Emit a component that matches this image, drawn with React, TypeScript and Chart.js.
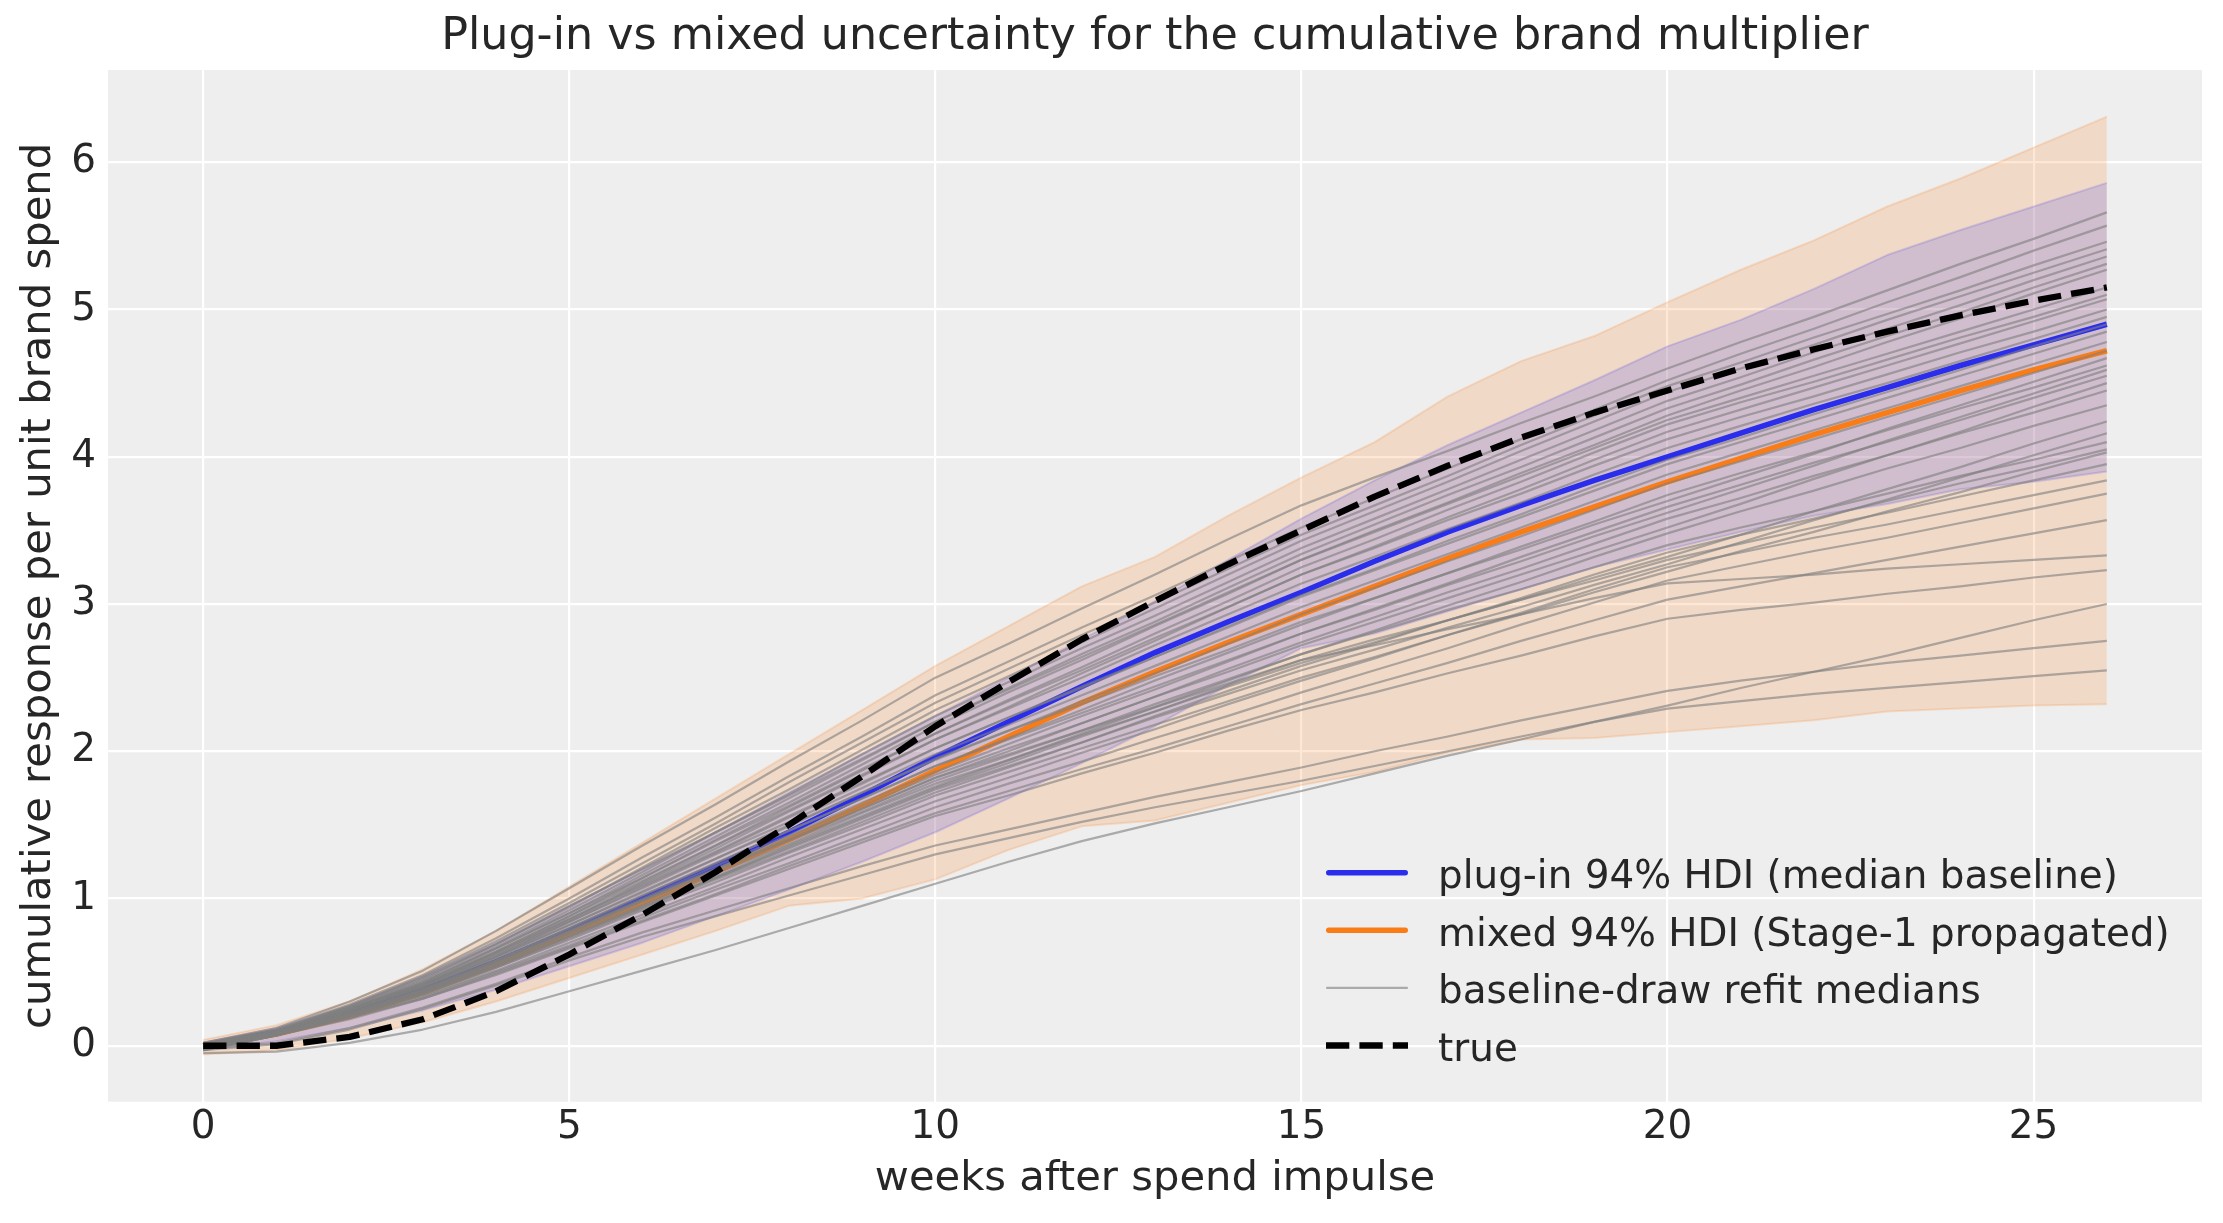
import React, { useEffect, useRef } from "react";
import { Chart, registerables } from "chart.js";

Chart.register(...registerables);

// ---------------- data ----------------
const WEEKS = [0, 1, 2, 3, 4, 5, 6, 7, 8, 9, 10, 11, 12, 13, 14, 15, 16, 17, 18, 19, 20, 21, 22, 23, 24, 25, 26];
const X_TICKS = [0, 5, 10, 15, 20, 25];
const Y_TICKS = [0, 1, 2, 3, 4, 5, 6];
const X_RANGE = [-1.3, 27.3];
const Y_RANGE = [-0.38, 6.627];

const TITLE = "Plug-in vs mixed uncertainty for the cumulative brand multiplier";
const X_LABEL = "weeks after spend impulse";
const Y_LABEL = "cumulative response per unit brand spend";
const LABEL_PLUGIN = "plug-in 94% HDI (median baseline)";
const LABEL_MIXED = "mixed 94% HDI (Stage-1 propagated)";
const LABEL_DRAWS = "baseline-draw refit medians";
const LABEL_TRUE = "true";

const TRUE_CURVE = [0, 0.0, 0.06, 0.18, 0.37, 0.62, 0.89, 1.18, 1.5, 1.83, 2.17, 2.47, 2.76, 3.02, 3.27, 3.5, 3.73, 3.94, 4.13, 4.3, 4.45, 4.6, 4.73, 4.85, 4.96, 5.06, 5.15];
const PLUGIN_MEDIAN = [0, 0.09, 0.22, 0.38, 0.57, 0.78, 1.0, 1.22, 1.45, 1.7, 1.96, 2.2, 2.44, 2.67, 2.88, 3.08, 3.29, 3.49, 3.67, 3.84, 4.0, 4.16, 4.32, 4.47, 4.62, 4.76, 4.9];
const PLUGIN_HI = [0.02, 0.12, 0.27, 0.47, 0.7, 0.95, 1.2, 1.45, 1.72, 1.98, 2.24, 2.5, 2.76, 3.02, 3.3, 3.58, 3.84, 4.08, 4.3, 4.52, 4.75, 4.93, 5.14, 5.37, 5.54, 5.7, 5.86];
const PLUGIN_LO = [-0.03, 0.03, 0.12, 0.24, 0.38, 0.54, 0.7, 0.88, 1.06, 1.25, 1.45, 1.68, 1.92, 2.17, 2.45, 2.7, 2.8, 2.95, 3.1, 3.25, 3.37, 3.49, 3.6, 3.68, 3.78, 3.83, 3.9];
const MIXED_MEDIAN = [0, 0.08, 0.2, 0.36, 0.55, 0.76, 0.97, 1.18, 1.4, 1.63, 1.87, 2.1, 2.33, 2.54, 2.74, 2.93, 3.12, 3.31, 3.49, 3.66, 3.83, 3.99, 4.15, 4.3, 4.45, 4.59, 4.72];
const MIXED_HI = [0.04, 0.14, 0.3, 0.52, 0.78, 1.08, 1.38, 1.68, 1.98, 2.28, 2.58, 2.85, 3.12, 3.32, 3.6, 3.86, 4.1, 4.41, 4.65, 4.82, 5.05, 5.27, 5.47, 5.7, 5.89, 6.1, 6.31];
const MIXED_LO = [-0.06, -0.03, 0.05, 0.16, 0.3, 0.46, 0.62, 0.78, 0.95, 1.0, 1.13, 1.33, 1.49, 1.53, 1.65, 1.77, 1.86, 1.99, 2.08, 2.09, 2.13, 2.17, 2.21, 2.27, 2.29, 2.31, 2.32];

const DRAW_01 = [0.02, 0.12, 0.30, 0.51, 0.78, 1.07, 1.36, 1.64, 1.93, 2.21, 2.50, 2.73, 2.97, 3.20, 3.44, 3.67, 3.86, 4.04, 4.23, 4.41, 4.60, 4.78, 4.95, 5.13, 5.31, 5.48, 5.66];
const DRAW_02 = [0.02, 0.11, 0.28, 0.48, 0.73, 1.00, 1.28, 1.55, 1.83, 2.10, 2.38, 2.61, 2.84, 3.06, 3.29, 3.52, 3.72, 3.92, 4.12, 4.32, 4.52, 4.70, 4.87, 5.05, 5.22, 5.40, 5.57];
const DRAW_03 = [0.01, 0.11, 0.27, 0.47, 0.71, 0.97, 1.24, 1.51, 1.79, 2.06, 2.33, 2.56, 2.79, 3.01, 3.24, 3.47, 3.67, 3.87, 4.08, 4.28, 4.48, 4.64, 4.81, 4.97, 5.13, 5.30, 5.46];
const DRAW_04 = [0.01, 0.10, 0.26, 0.45, 0.69, 0.94, 1.21, 1.48, 1.74, 2.01, 2.28, 2.51, 2.74, 2.97, 3.20, 3.43, 3.63, 3.83, 4.04, 4.24, 4.44, 4.60, 4.76, 4.93, 5.09, 5.25, 5.41];
const DRAW_05 = [0.00, 0.10, 0.26, 0.44, 0.67, 0.92, 1.18, 1.45, 1.71, 1.98, 2.24, 2.47, 2.70, 2.92, 3.15, 3.38, 3.58, 3.78, 3.98, 4.18, 4.38, 4.54, 4.71, 4.87, 5.03, 5.20, 5.36];
const DRAW_06 = [0.00, 0.10, 0.25, 0.43, 0.66, 0.90, 1.16, 1.42, 1.68, 1.94, 2.20, 2.43, 2.66, 2.88, 3.11, 3.34, 3.54, 3.74, 3.93, 4.13, 4.33, 4.49, 4.66, 4.82, 4.98, 5.15, 5.31];
const DRAW_07 = [0.00, 0.10, 0.25, 0.42, 0.64, 0.88, 1.14, 1.40, 1.65, 1.91, 2.17, 2.40, 2.62, 2.85, 3.07, 3.30, 3.50, 3.69, 3.89, 4.08, 4.28, 4.45, 4.61, 4.78, 4.94, 5.11, 5.27];
const DRAW_08 = [-0.01, 0.09, 0.24, 0.41, 0.63, 0.86, 1.11, 1.36, 1.62, 1.87, 2.12, 2.35, 2.57, 2.80, 3.02, 3.25, 3.44, 3.64, 3.83, 4.03, 4.22, 4.37, 4.51, 4.66, 4.81, 4.95, 5.10];
const DRAW_09 = [-0.01, 0.09, 0.24, 0.41, 0.62, 0.85, 1.10, 1.34, 1.59, 1.83, 2.08, 2.30, 2.53, 2.75, 2.98, 3.20, 3.39, 3.59, 3.78, 3.98, 4.17, 4.32, 4.47, 4.62, 4.77, 4.92, 5.07];
const DRAW_10 = [0.00, 0.09, 0.24, 0.40, 0.61, 0.84, 1.08, 1.31, 1.55, 1.78, 2.02, 2.23, 2.44, 2.64, 2.85, 3.06, 3.24, 3.43, 3.61, 3.80, 3.98, 4.13, 4.29, 4.44, 4.59, 4.75, 4.90];
const DRAW_11 = [-0.01, 0.09, 0.23, 0.39, 0.60, 0.82, 1.05, 1.27, 1.50, 1.72, 1.95, 2.14, 2.32, 2.51, 2.69, 2.88, 3.04, 3.21, 3.37, 3.54, 3.70, 3.86, 4.02, 4.19, 4.35, 4.51, 4.67];
const DRAW_12 = [-0.01, 0.09, 0.22, 0.38, 0.58, 0.80, 1.02, 1.24, 1.46, 1.68, 1.90, 2.08, 2.26, 2.44, 2.62, 2.80, 2.96, 3.13, 3.29, 3.46, 3.62, 3.78, 3.94, 4.11, 4.27, 4.43, 4.59];
const DRAW_13 = [-0.02, 0.08, 0.22, 0.37, 0.57, 0.78, 0.99, 1.20, 1.42, 1.63, 1.84, 2.02, 2.19, 2.37, 2.54, 2.72, 2.88, 3.04, 3.20, 3.36, 3.52, 3.68, 3.85, 4.01, 4.17, 4.34, 4.50];
const DRAW_14 = [-0.02, 0.08, 0.21, 0.36, 0.55, 0.76, 0.96, 1.17, 1.37, 1.58, 1.78, 1.94, 2.11, 2.27, 2.44, 2.60, 2.74, 2.89, 3.03, 3.18, 3.32, 3.47, 3.63, 3.78, 3.93, 4.09, 4.24];
const DRAW_15 = [-0.02, 0.08, 0.21, 0.36, 0.54, 0.74, 0.94, 1.14, 1.34, 1.54, 1.74, 1.90, 2.06, 2.23, 2.39, 2.55, 2.69, 2.84, 2.98, 3.13, 3.27, 3.42, 3.57, 3.71, 3.86, 4.01, 4.16];
const DRAW_16 = [-0.01, 0.08, 0.22, 0.37, 0.56, 0.77, 0.98, 1.18, 1.39, 1.59, 1.80, 1.97, 2.14, 2.32, 2.49, 2.66, 2.81, 2.96, 3.10, 3.25, 3.40, 3.52, 3.63, 3.75, 3.87, 3.98, 4.10];
const DRAW_17 = [-0.02, 0.08, 0.20, 0.35, 0.53, 0.72, 0.92, 1.11, 1.31, 1.50, 1.70, 1.86, 2.02, 2.18, 2.34, 2.50, 2.64, 2.79, 2.93, 3.08, 3.22, 3.36, 3.49, 3.63, 3.76, 3.90, 4.03];
const DRAW_18 = [-0.03, 0.07, 0.20, 0.34, 0.51, 0.70, 0.89, 1.08, 1.28, 1.47, 1.66, 1.82, 1.99, 2.15, 2.32, 2.48, 2.63, 2.79, 2.94, 3.10, 3.25, 3.35, 3.45, 3.54, 3.64, 3.74, 3.84];
const DRAW_19 = [-0.03, 0.07, 0.19, 0.33, 0.50, 0.68, 0.87, 1.06, 1.24, 1.43, 1.62, 1.78, 1.93, 2.09, 2.24, 2.40, 2.55, 2.70, 2.86, 3.01, 3.16, 3.26, 3.36, 3.45, 3.55, 3.65, 3.75];
const DRAW_20 = [-0.03, 0.07, 0.19, 0.32, 0.49, 0.67, 0.85, 1.03, 1.22, 1.40, 1.58, 1.73, 1.88, 2.02, 2.17, 2.32, 2.46, 2.60, 2.75, 2.89, 3.03, 3.12, 3.21, 3.30, 3.39, 3.48, 3.57];
const DRAW_21 = [-0.02, 0.09, 0.22, 0.37, 0.57, 0.78, 0.99, 1.20, 1.40, 1.61, 1.82, 1.98, 2.14, 2.30, 2.46, 2.62, 2.72, 2.83, 2.93, 3.04, 3.14, 3.17, 3.20, 3.24, 3.27, 3.30, 3.33];
const DRAW_22 = [-0.03, 0.07, 0.18, 0.32, 0.48, 0.66, 0.84, 1.02, 1.20, 1.38, 1.56, 1.70, 1.85, 1.99, 2.14, 2.28, 2.40, 2.53, 2.65, 2.78, 2.90, 2.96, 3.01, 3.07, 3.12, 3.18, 3.23];
const DRAW_23 = [-0.05, -0.04, 0.02, 0.11, 0.23, 0.37, 0.51, 0.65, 0.80, 0.95, 1.10, 1.25, 1.39, 1.51, 1.62, 1.73, 1.85, 1.97, 2.08, 2.20, 2.31, 2.43, 2.54, 2.65, 2.77, 2.89, 3.00];
const DRAW_24 = [-0.02, 0.02, 0.12, 0.26, 0.42, 0.60, 0.77, 0.92, 1.07, 1.22, 1.36, 1.47, 1.58, 1.69, 1.79, 1.89, 2.00, 2.10, 2.21, 2.31, 2.41, 2.48, 2.54, 2.60, 2.65, 2.70, 2.75];
const DRAW_25 = [-0.03, 0.01, 0.11, 0.25, 0.41, 0.58, 0.74, 0.88, 1.02, 1.16, 1.30, 1.41, 1.52, 1.62, 1.71, 1.80, 1.90, 2.00, 2.10, 2.20, 2.29, 2.34, 2.39, 2.43, 2.47, 2.51, 2.55];
const DRAW_26 = [0.01, 0.10, 0.27, 0.46, 0.69, 0.95, 1.20, 1.45, 1.70, 1.95, 2.20, 2.42, 2.64, 2.86, 3.08, 3.30, 3.49, 3.68, 3.87, 4.06, 4.25, 4.40, 4.55, 4.70, 4.85, 5.00, 5.15];
const DRAW_27 = [0.00, 0.10, 0.25, 0.43, 0.66, 0.90, 1.14, 1.39, 1.63, 1.88, 2.12, 2.34, 2.55, 2.77, 2.98, 3.20, 3.38, 3.57, 3.75, 3.94, 4.12, 4.27, 4.41, 4.56, 4.71, 4.85, 5.00];
const DRAW_28 = [0.00, 0.10, 0.25, 0.42, 0.64, 0.88, 1.12, 1.36, 1.60, 1.84, 2.08, 2.29, 2.50, 2.72, 2.93, 3.14, 3.32, 3.51, 3.69, 3.88, 4.06, 4.21, 4.36, 4.50, 4.65, 4.80, 4.95];
const DRAW_29 = [-0.01, 0.09, 0.24, 0.41, 0.63, 0.86, 1.09, 1.32, 1.56, 1.79, 2.02, 2.23, 2.43, 2.64, 2.84, 3.05, 3.23, 3.41, 3.59, 3.77, 3.95, 4.10, 4.25, 4.40, 4.55, 4.70, 4.85];
const DRAW_30 = [-0.01, 0.09, 0.24, 0.40, 0.61, 0.84, 1.07, 1.30, 1.52, 1.75, 1.98, 2.18, 2.38, 2.58, 2.78, 2.98, 3.16, 3.34, 3.52, 3.70, 3.88, 4.03, 4.18, 4.33, 4.48, 4.63, 4.78];
const DRAW_31 = [-0.01, 0.09, 0.23, 0.39, 0.60, 0.82, 1.04, 1.27, 1.49, 1.72, 1.94, 2.14, 2.34, 2.53, 2.73, 2.93, 3.11, 3.29, 3.46, 3.64, 3.82, 3.97, 4.12, 4.27, 4.42, 4.57, 4.72];
const DRAW_32 = [-0.01, 0.09, 0.22, 0.38, 0.58, 0.80, 1.02, 1.24, 1.46, 1.68, 1.90, 2.09, 2.28, 2.48, 2.67, 2.86, 3.04, 3.21, 3.39, 3.56, 3.74, 3.89, 4.03, 4.18, 4.33, 4.47, 4.62];
const DRAW_33 = [-0.02, 0.08, 0.22, 0.38, 0.58, 0.79, 1.00, 1.22, 1.43, 1.65, 1.86, 2.05, 2.24, 2.42, 2.61, 2.80, 2.97, 3.14, 3.32, 3.49, 3.66, 3.81, 3.96, 4.10, 4.25, 4.40, 4.55];
const DRAW_34 = [-0.02, 0.08, 0.21, 0.37, 0.56, 0.77, 0.98, 1.19, 1.40, 1.61, 1.82, 2.00, 2.19, 2.37, 2.56, 2.74, 2.91, 3.08, 3.24, 3.41, 3.58, 3.72, 3.87, 4.01, 4.16, 4.30, 4.45];
const DRAW_35 = [-0.02, 0.08, 0.21, 0.36, 0.55, 0.75, 0.95, 1.15, 1.36, 1.56, 1.76, 1.94, 2.12, 2.30, 2.48, 2.66, 2.82, 2.99, 3.15, 3.32, 3.48, 3.63, 3.77, 3.92, 4.06, 4.21, 4.35];
const DRAW_36 = [-0.02, 0.08, 0.20, 0.35, 0.53, 0.73, 0.93, 1.13, 1.32, 1.52, 1.72, 1.89, 2.06, 2.24, 2.41, 2.58, 2.73, 2.89, 3.04, 3.20, 3.35, 3.47, 3.58, 3.70, 3.82, 3.93, 4.05];
const DRAW_37 = [-0.02, 0.08, 0.21, 0.36, 0.54, 0.74, 0.94, 1.14, 1.35, 1.55, 1.75, 1.92, 2.10, 2.27, 2.45, 2.62, 2.76, 2.89, 3.03, 3.16, 3.30, 3.41, 3.52, 3.62, 3.73, 3.84, 3.95];

const REFIT_DRAWS = [
  DRAW_01, DRAW_02, DRAW_03, DRAW_04, DRAW_05, DRAW_06, DRAW_07, DRAW_08, DRAW_09, DRAW_10,
  DRAW_11, DRAW_12, DRAW_13, DRAW_14, DRAW_15, DRAW_16, DRAW_17, DRAW_18, DRAW_19, DRAW_20,
  DRAW_21, DRAW_22, DRAW_23, DRAW_24, DRAW_25, DRAW_26, DRAW_27, DRAW_28, DRAW_29, DRAW_30,
  DRAW_31, DRAW_32, DRAW_33, DRAW_34, DRAW_35, DRAW_36, DRAW_37,
];

// ---------------- style ----------------
const FONT = "'DejaVu Sans', 'Liberation Sans', sans-serif";
const TEXT = "#262626";
const BLUE = "#2a2eec";
const ORANGE = "#fa7c17";
const BLUE_FILL = "rgba(42,46,236,0.16)";
const ORANGE_FILL = "rgba(250,124,23,0.18)";
const GRAY = "rgba(128,128,128,0.62)";

function pts(values: number[]) {
  return values.map((y, i) => ({ x: WEEKS[i], y }));
}

export default function App() {
  const ref = useRef<HTMLCanvasElement | null>(null);

  useEffect(() => {
    const canvas = ref.current;
    if (!canvas) return;
    document.body.style.margin = "0";

    const background = {
      id: "panelBackground",
      beforeDraw(chart: any) {
        const { ctx, chartArea } = chart;
        ctx.save();
        ctx.fillStyle = "#ffffff";
        ctx.fillRect(0, 0, chart.width, chart.height);
        ctx.fillStyle = "#eeeeee";
        ctx.fillRect(chartArea.left, chartArea.top, chartArea.right - chartArea.left, chartArea.bottom - chartArea.top);
        ctx.restore();
      },
    };

    const legend = {
      id: "insideLegend",
      afterDraw(chart: any) {
        const { ctx, chartArea } = chart;
        const items = chart.data.datasets
          .filter((d: any) => d.legendRow !== undefined)
          .sort((a: any, b: any) => a.legendRow - b.legendRow);
        const x0 = chartArea.right - 876;
        const x1 = chartArea.right - 794;
        const tx = chartArea.right - 764;
        const y0 = chartArea.bottom - 229;
        const step = 57.6;
        ctx.save();
        items.forEach((d: any, i: number) => {
          const y = y0 + i * step;
          ctx.beginPath();
          ctx.strokeStyle = d.borderColor;
          ctx.lineWidth = d.borderWidth;
          const dashed = d.borderDash && d.borderDash.length;
          ctx.setLineDash(dashed ? d.borderDash : []);
          ctx.lineCap = dashed ? "butt" : "round";
          const inset = dashed ? 0 : d.borderWidth / 2;
          ctx.moveTo(x0 + inset, y);
          ctx.lineTo(x1 - inset, y);
          ctx.stroke();
          ctx.setLineDash([]);
          ctx.fillStyle = TEXT;
          ctx.font = `38.9px ${FONT}`;
          ctx.textAlign = "left";
          ctx.textBaseline = "alphabetic";
          ctx.fillText(d.label, tx, y + 15.4);
        });
        ctx.restore();
      },
    };

    const line = (data: number[], extra: any) => ({
      data: pts(data),
      pointRadius: 0,
      pointHoverRadius: 0,
      tension: 0,
      fill: false,
      borderJoinStyle: "round",
      ...extra,
    });

    const datasets: any[] = [
      line(MIXED_LO, { label: "mixed lower", borderColor: ORANGE_FILL, borderWidth: 2, order: 100 }),
      line(MIXED_HI, { label: "mixed upper", borderColor: ORANGE_FILL, borderWidth: 2, fill: "-1", backgroundColor: ORANGE_FILL, order: 99 }),
      line(PLUGIN_LO, { label: "plug-in lower", borderColor: BLUE_FILL, borderWidth: 2, order: 98 }),
      line(PLUGIN_HI, { label: "plug-in upper", borderColor: BLUE_FILL, borderWidth: 2, fill: "-1", backgroundColor: BLUE_FILL, order: 97 }),
      line(PLUGIN_MEDIAN, { label: LABEL_PLUGIN, borderColor: BLUE, borderWidth: 5.5, order: 96, legendRow: 0 }),
      line(MIXED_MEDIAN, { label: LABEL_MIXED, borderColor: ORANGE, borderWidth: 5.5, order: 95, legendRow: 1 }),
    ];
    REFIT_DRAWS.forEach((draw, i) => {
      datasets.push(
        line(draw, {
          label: i === 0 ? LABEL_DRAWS : `draw ${i + 1}`,
          borderColor: GRAY,
          borderWidth: 2.2,
          order: 80 - i,
          ...(i === 0 ? { legendRow: 2 } : {}),
        })
      );
    });
    datasets.push(
      line(TRUE_CURVE, { label: LABEL_TRUE, borderColor: "#000000", borderWidth: 6.3, borderDash: [23.3, 10.1], order: 0, legendRow: 3 })
    );

    const chart = new Chart(canvas, {
      type: "line",
      data: { datasets },
      plugins: [background, legend],
      options: {
        responsive: false,
        maintainAspectRatio: false,
        devicePixelRatio: 1,
        animation: false,
        events: [],
        layout: { padding: { left: 0, right: 21, top: 0, bottom: 0 } },
        plugins: {
          legend: { display: false },
          tooltip: { enabled: false },
          title: {
            display: true,
            text: TITLE,
            fullSize: false,
            color: TEXT,
            font: { family: FONT, size: 44.4, weight: "normal" },
            padding: { top: 11.3, bottom: 5.4 },
          },
        },
        scales: {
          x: {
            type: "linear",
            min: X_RANGE[0],
            max: X_RANGE[1],
            afterBuildTicks: (scale: any) => {
              scale.ticks = X_TICKS.map((v) => ({ value: v }));
            },
            afterFit: (scale: any) => {
              scale.height = 121.3;
            },
            grid: { color: "#ffffff", lineWidth: 2.2, drawTicks: false },
            border: { display: false },
            ticks: { color: TEXT, font: { family: FONT, size: 38.9 }, padding: 2.9, maxRotation: 0, autoSkip: false },
            title: {
              display: true,
              text: X_LABEL,
              color: TEXT,
              font: { family: FONT, size: 41.7 },
              padding: { top: 0, bottom: 19.1 },
            },
          },
          y: {
            type: "linear",
            min: Y_RANGE[0],
            max: Y_RANGE[1],
            afterBuildTicks: (scale: any) => {
              scale.ticks = Y_TICKS.map((v) => ({ value: v }));
            },
            afterFit: (scale: any) => {
              scale.width = 108;
            },
            grid: { color: "#ffffff", lineWidth: 2.2, drawTicks: false },
            border: { display: false },
            ticks: { color: TEXT, font: { family: FONT, size: 38.9 }, padding: 12, autoSkip: false },
            title: {
              display: true,
              text: Y_LABEL,
              color: TEXT,
              font: { family: FONT, size: 41.7 },
              padding: { top: 14.1, bottom: 0 },
            },
          },
        },
      } as any,
    });

    return () => chart.destroy();
  }, []);

  return (
    <div style={{ position: "fixed", left: 0, top: 0, width: 2223, height: 1223, background: "#ffffff" }}>
      <canvas ref={ref} width={2223} height={1223} style={{ display: "block", width: "2223px", height: "1223px" }} />
    </div>
  );
}
